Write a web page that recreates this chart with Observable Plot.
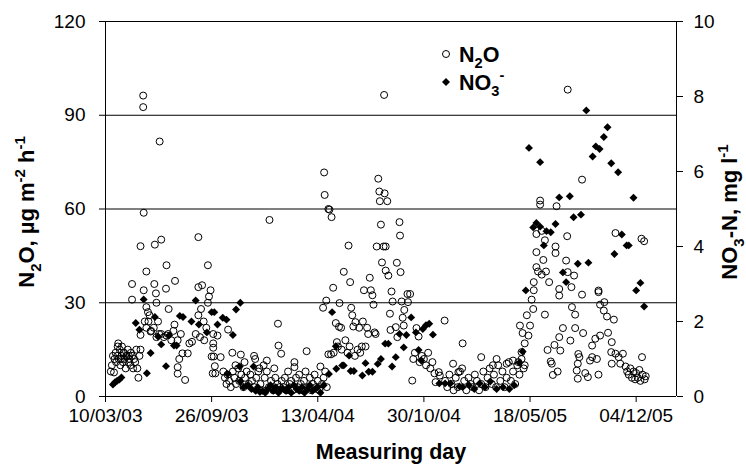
<!DOCTYPE html>
<html><head><meta charset="utf-8">
<script src="https://cdn.jsdelivr.net/npm/d3@7"></script>
<script src="https://cdn.jsdelivr.net/npm/@observablehq/plot@0.6"></script>
<style>body{margin:0;background:#fff}</style>
</head><body><div id="chart"></div>
<script>
// ---- data ----
const startDate = "2003-03-10";   // day 0 of the day offsets below
const endDay = 1076;              // right edge of the x axis, days after start
const xTickLabels = ["10/03/03","26/09/03","13/04/04","30/10/04","18/05/05","04/12/05"];
const leftTicks = [0,30,60,90,120];
const rightTicks = [0,2,4,6,8,10];
const gridValues = [30,60,90,120];

// N2O flux, [day offset, µg m-2 h-1]
const n2o = [[10,8],[12,10],[14,13],[16,7.7],[17,12],[19,14],[20,11],[22,13],[23,16],[24,17],[25,12],[27,15],[28,10],[29,12],[30,13],[31,16],[33,11],[34,14],[35,14],[36,12],[38,9],[39,13],[40,13],[42,15],[43,11],[44,13],[45,12],[47,10],[48,14],[50,13],[50,36],[50,31],[52,9],[54,12],[56,11],[58,15],[60,9],[62,6],[64,13],[66,15],[66,19.7],[66,48.1],[71,96.3],[71,92.6],[72,58.8],[72,34],[74,24],[77,40],[77,28.6],[77,22],[80,27],[81,24],[83,26],[85,20.8],[86,21],[91,22],[92,36],[93,48.6],[95,33],[96,30],[96,19],[99,24],[101,20],[102,81.6],
[105,50.2],[105,20],[110,19],[114,34.5],[115,42],[115,19.5],[118,20],[119,28],[124,18],[128,21],[130,23],[131,37],[136,18],[136,9.4],[136,7.3],[139,12],[142,20],[145,13.8],[150,5.3],[155,13.8],[158,17],[163,17.5],[170,20],[175,51],[175,35],[175,26],[178,19],[180,28],[182,35.6],[185,24],[186,18],[190,22],[193,42],[193,30],[195,32],[198,34],[200,12.8],[202,7.4],[203,15.6],[203,17],[203,20],[204,12.8],[206,9.7],[207,7.4],[211,19.5],[217,12.6],
[222,8],[225,6],[228,4],[230,7],[231,21.4],[233,5],[236,3],[239,14],[240,8],[243,6],[245,10],[246,4],[250,9],[252,5],[255,13.4],[256,7],[260,3],[262,11],[263,6],[266,8],[270,4],[273,7],[276,5],[280,13],[280,3],[282,12],[284,6],[288,8],[290,9],[292,4],[296,2],[298,10],[300,6],[304,11.5],[304,8],[308,3],[309,56.5],[312,5],[316,2],[318,9],[320,6],[324,4],[325,23.3],[326,16.3],[328,3],[331,13.7],[332,5],[335,3],[338,6],[341,2],[344,8],[347,4],[350,5],[353,2],[356,11],[356,9.4],[359,6],[362,3],[365,7],[368,4],[371,2],[374,5],[377,8],[379,14.5],[382,3],[385,6],[388,2],[391,4],[394,7],[397,3],[400,5],[403,2],[405,9.6],[408,4],
[410,28.4],[411,6],[412,71.7],[413,64.5],[414,8],[416,30.7],[417,3],[420,60],[420,13.5],[422,59.8],[425,13.5],[426,57.4],[429,34.8],[430,14],[434,23.5],[436,17.4],[438,16],[440,22.3],[441,29.9],[444,22],[445,15],[449,39.9],[452,18],[456,14],[458,48.3],[460,16],[461,36.6],[463,28.4],[465,26],[467,22.4],[470,13],[471,23.8],[475,15],[478,22],[480,14],[483,16],[485,24],[487,34],[490,16],[493,22],[495,20],[498,38],[500,34],[503,32.4],[505,29.4],[507,20.5],[509,20],[511,48],[514,69.7],[516,65.6],[517,62.5],[519,55],[521,42.9],[524,48],[525,96.5],[526,65],[528,40.3],[528,48],[531,62.5],[533,38.7],[536,26.5],[537,21.3],[539,33.6],[541,30.4],[547,22.2],[549,42.8],[550,19],[554,55.8],[555,51.5],[556,39.8],[558,30.4],[560,25.2],[562,22.7],[563,27.7],[569,32.8],[570,30.2],[574,32.8],[578,5.1],[580,12],[583,14],[586,21.9],[590,19.2],[592,11],[596,13],[600,12],[604,10],[608,14],[612,9],[616,11],[620,7.4],[622,4.6],[628,7.8],[630,6.7],[639,24.3],[640,5],[644,3],[648,7],[652,4],[655,10.5],[656,2],[660,6],[664,3],[665,7.8],[668,8],[672,9],[673,17],[676,5],[680,2],
[684,6],[688,4],[692,3],[696,7],[700,5],[704,2],[708,12.6],[708,4],[712,8],[716,3],[720,6],[724,9],[728,4],[730,10],[732,7],[736,3],[737,12],[740,10],[744,5],[748,8],[752,3],[756,10.5],[756,6],[760,11],[764,5],[768,11.5],[768,8],[772,4],[776,10],[778,11],[780,7],[781,22.7],[784,14.2],[784,12],[786,20.3],[788,9],[790,17],[790,10],[794,26],[797,19.5],[800,22.7],[803,31],[806,28],[807,34],[807,36.6],[812,41.4],[812,46.2],[812,52],[815,40],[819,62.7],[819,61.4],[822,53],[822,39],[825,43.7],[828,50],[828,26.2],[830,40],[833,14.9],[836,36.6],[839,11.2],[841,10.5],[843,6.9],[846,16.5],[848,48],[848,45.9],[850,60.9],[852,8],[855,34.4],[855,32.3],[855,19],[857,14.7],[862,21.9],[868,43.5],[870,51.3],[871,98.2],[871,39.8],[876,17.9],[878,35],[879,28.6],[883,38.7],[885,26.2],[885,21.9],[888,8.3],[890,10.5],[890,5.7],[891,13.6],[893,12.6],[898,32.6],[898,69.4],[900,20.3],[904,7.5],[909,6.2],[913,11.5],[917,12.6],[917,16.3],[923,18.5],[926,12],[929,7],[929,33.9],[929,33.4],[932,29.4],[932,19.5],[939,27.5],[940,30.2],[945,25.6],[947,20.4],[953,14.2],[954,17.4],[954,10.5],[958,24.6],[961,13.7],[961,52.3],[967,12.6],[970,10.5],[975,13.7],[980,9.6],[983,8],[986,7],[989,9],[992,6],[995,8],[998,5.5],[1000,7.5],[1003,6],[1006,8.5],[1008,5],[1010,50.5],[1011,12.6],[1012,7],[1015,49.7],[1016,5.5],[1018,6.5]];

// NO3-N, [day offset, mg l-1]
const no3 = [[14,0.32],[18,0.38],[22,0.42],[26,0.45],[30,0.51],[57,1.96],[64,1.78],[72,2.59],[78,0.62],[85,1.16],[93,2.12],[99,1.6],[105,1.39],[114,0.81],[120,1.63],[129,1.36],[134,1.36],[140,2.15],[146,2.12],[162,2.0],[170,2.56],[176,1.92],[191,1.71],[200,2.25],[205,2.25],[211,1.92],[221,2.1],[228,2.05],[230,0.6],[240,1.64],[246,2.32],[253,0.8],[254,2.5],[254,0.4],[260,0.25],[268,0.3],[275,0.2],[279,0.8],[283,0.15],[287,0.25],[291,0.12],[296,0.15],[301,0.1],[306,0.2],[311,0.3],[316,0.15],[321,0.25],[326,0.1],[331,0.2],[335,0.2],[340,0.15],[345,0.25],[350,0.1],[355,0.3],[360,0.2],[365,0.15],[370,0.25],[375,0.1],[380,0.2],[385,0.3],[390,0.15],[395,0.2],[400,0.25],[405,0.1],[411,0.3],[421,0.6],[427,2.25],[434,1.34],[435,0.74],[446,0.83],[449,0.83],[459,1.09],[462,0.68],[468,0.68],[484,0.56],[490,0.89],[496,0.66],[503,0.66],[513,0.87],[519,1.0],[527,1.41],[533,1.41],[540,0.8],[547,1.05],[554,1.67],[562,1.31],[567,1.64],[576,2.11],[585,1.71],[590,1.24],[595,0.96],[598,1.8],[604,1.9],[610,1.94],[617,1.65],[629,0.35],[640,0.35],[650,0.35],[667,0.27],[673,0.25],[685,0.3],[695,0.2],[705,0.35],[715,0.25],[725,0.4],[737,0.2],[749,0.25],[761,0.2],[770,0.3],[780,0.9],[786,1.2],[792,2.83],[798,6.63],[806,4.51],[812,4.63],[819,4.53],[819,6.25],[826,4.03],[831,4.41],[839,4.38],[848,4.6],[855,5.31],[862,3.31],[868,3.05],[875,5.34],[882,4.78],[890,3.54],[896,4.85],[906,7.63],[910,3.57],[918,6.4],[924,6.67],[931,6.6],[939,6.92],[946,7.18],[953,6.22],[959,3.8],[966,5.98],[973,4.32],[982,4.03],[986,4.03],[995,5.3],[1000,2.83],[1008,3.03],[1015,2.4]];

// ---- chart ----
const FONT = "'Liberation Sans', Arial, sans-serif";
const t0 = d3.utcParse("%Y-%m-%d")(startDate);
const toDate = d => d3.utcDay.offset(t0, d);
const tEnd = toDate(endDay);
const xTicks = xTickLabels.map(d3.utcParse("%d/%m/%y"));
const ratio = leftTicks[leftTicks.length-1] / rightTicks[rightTicks.length-1];
const R_CIRCLE = 3.5, R_DIAMOND = 3.6;

const plot = Plot.plot({
  width: 746, height: 464,
  marginLeft: 105, marginRight: 70, marginTop: 21, marginBottom: 68,
  style: {fontFamily: FONT, fontSize: "19px", color: "#000", background: "#fff", overflow: "visible"},
  x: {type: "utc", domain: [t0, tEnd]},
  y: {domain: [0, 120]},
  marks: [
    Plot.ruleY(gridValues, {stroke: "#000", strokeWidth: 1}),
    Plot.dot(n2o, {x: d => toDate(d[0]), y: d => d[1], r: R_CIRCLE, stroke: "#000", strokeWidth: 1, fill: "none"}),
    Plot.dot(no3, {x: d => toDate(d[0]), y: d => d[1] * ratio, r: R_DIAMOND, symbol: "diamond2", fill: "#000", stroke: "none"}),
    Plot.ruleX([t0], {y1: 0, y2: 120, stroke: "#000"}),
    Plot.ruleX([tEnd], {y1: 0, y2: 120, stroke: "#000"}),
    Plot.ruleY([0], {stroke: "#000"}),
    Plot.axisX({ticks: xTicks, tickFormat: d3.utcFormat("%d/%m/%y"), tickSize: 6, tickPadding: 6, label: null}),
    Plot.axisY({ticks: leftTicks, tickSize: 6, tickPadding: 14, label: null}),
    Plot.axisY({anchor: "right", ticks: rightTicks.map(v => v * ratio), tickFormat: v => String(v / ratio), tickSize: 6, tickPadding: 11, label: null})
  ]
});
document.getElementById("chart").appendChild(plot);

// rich text helper (sub/superscripts as tspans)
function rich(sel, parts, size) {
  let shift = 0;
  for (const [t, kind] of parts) {
    const target = kind === "sub" ? size * 0.3 : kind === "sup" ? -size * 0.42 : 0;
    sel.append("tspan").attr("dy", target - shift)
      .attr("font-size", kind ? size * 0.68 : size).text(t);
    shift = target;
  }
}
const svg = d3.select(plot);
const TS = 21.5, TY = 22;
svg.append("text").attr("x", 391).attr("y", 459).attr("text-anchor", "middle")
  .attr("font-family", FONT).attr("font-weight", "bold").attr("font-size", TS).text("Measuring day");

const lt = svg.append("text").attr("transform", "translate(34,212) rotate(-90)").attr("text-anchor", "middle")
  .attr("font-family", FONT).attr("font-weight", "bold").attr("font-size", TY);
rich(lt, [["N"],["2","sub"],["O, \u00b5g m"],["-2","sup"],[" h"],["-1","sup"]], TY);

const rt = svg.append("text").attr("transform", "translate(737,212) rotate(-90)").attr("text-anchor", "middle")
  .attr("font-family", FONT).attr("font-weight", "bold").attr("font-size", TY);
rich(rt, [["NO"],["3","sub"],["-N, mg l"],["-1","sup"]], TY);

// legend
const lg = svg.append("g").attr("font-family", FONT).attr("font-weight", "bold").attr("font-size", TS).attr("text-anchor", "start");
lg.append("circle").attr("cx", 446).attr("cy", 54).attr("r", R_CIRCLE).attr("fill", "none").attr("stroke", "#000");
rich(lg.append("text").attr("x", 459).attr("y", 61.5).attr("text-anchor", "start"), [["N"],["2","sub"],["O"]], TS);
lg.append("path").attr("transform", "translate(446,82)").attr("d", d3.symbol(d3.symbolDiamond2, Math.PI * R_DIAMOND * R_DIAMOND)()).attr("fill", "#000");
rich(lg.append("text").attr("x", 459).attr("y", 89.5).attr("text-anchor", "start"), [["NO"],["3","sub"],["-","sup"]], TS);
</script></body></html>
